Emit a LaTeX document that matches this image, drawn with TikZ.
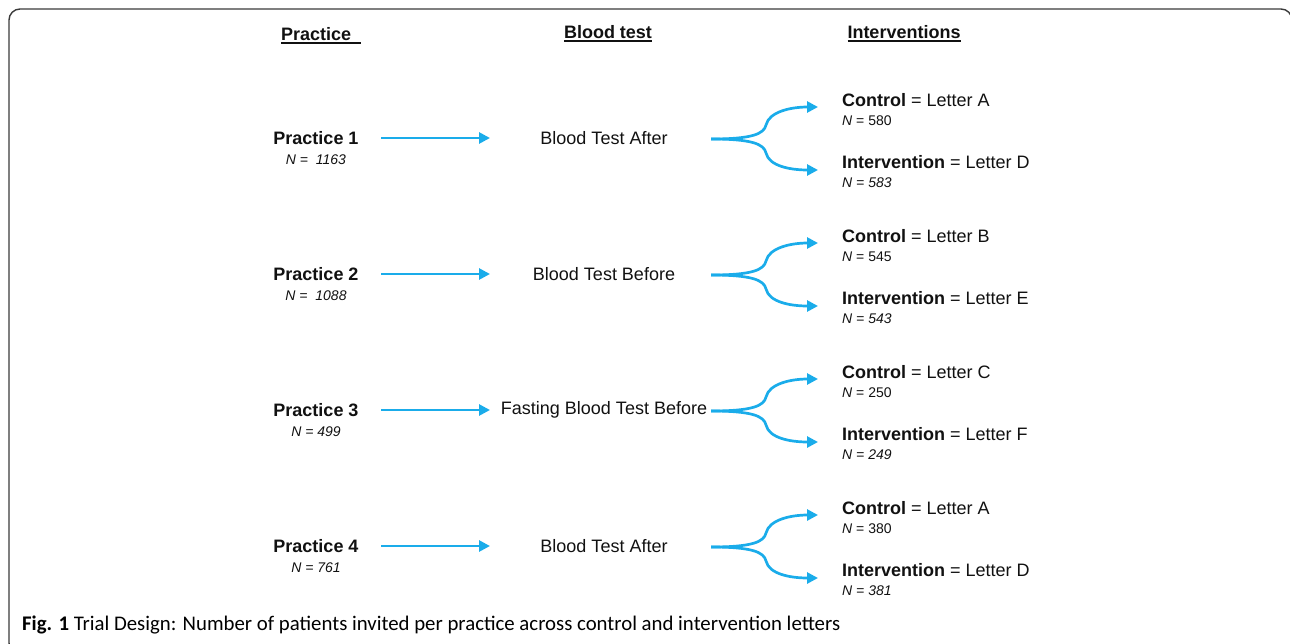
\documentclass[tikz,border=0pt]{standalone}
\usepackage{fontspec}
\setmainfont{Liberation Sans}
\newfontfamily\capfont{Carlito}
\usetikzlibrary{arrows.meta}
\definecolor{trCyan}{HTML}{1AACEA}
\definecolor{trFrame}{HTML}{3A3A3A}
\definecolor{trInk}{HTML}{111111}
\newcommand\trHead[1]{\setbox0\hbox{#1}\rlap{\rule[-3.5pt]{\wd0}{2.2pt}}\box0}
\tikzset{
  tr frame/.style={draw=trFrame, line width=1.4pt, rounded corners=11pt},
  tr arrow/.style={draw=trCyan, line width=2.7pt, -{Triangle[length=11pt,width=11pt]}},
  tr head/.style={font=\fontsize{18}{21}\selectfont\bfseries, text=trInk, inner sep=0pt},
  tr practice/.style={font=\fontsize{18}{21}\selectfont\bfseries, text=trInk, inner sep=0pt, minimum width=130pt},
  tr test/.style={font=\fontsize{18}{21}\selectfont, text=trInk, inner sep=0pt},
  tr arm/.style={font=\fontsize{18}{21}\selectfont, text=trInk, inner sep=0pt, anchor=west},
  tr n/.style={font=\fontsize{14}{16}\selectfont, text=trInk, inner sep=0pt},
  tr caption/.style={font=\capfont\fontsize{20.8}{24}\selectfont, text=black, inner sep=0pt, anchor=west},
}

\begin{document}
\begin{tikzpicture}[x=1pt, y=-1pt]
  \useasboundingbox (0,0) rectangle (1290,643);
  % Frame runs off the bottom and right edge
  \draw[tr frame] (9,9) rectangle (1292,654);

  % Column headers
  \node[tr head, anchor=west] (hPractice) at (281,36) {\trHead{Practice\ \ }};
  \node[tr head] (hTest) at (608,34) {\trHead{Blood test}};
  \node[tr head] (hInterv) at (904,34) {\trHead{Interventions}};

  % One row per practice
  \foreach \i/\y/\pn/\test/\cl/\cn/\il/\in in {
      1/138/{N =\ \ 1163}/{Blood Test After}/A/580/D/583,
      2/274/{N =\ \ 1088}/{Blood Test Before}/B/545/E/543,
      3/410/{N = 499}/{Fasting Blood Test Before}/C/250/F/249,
      4/546/{N = 761}/{Blood Test After}/A/380/D/381} {
    \node[tr practice] (p\i) at (316,\y) {Practice \i};
    \node[tr n] (pn\i) at (316,\y+22) {\textit{\pn}};
    \node[tr test] (t\i) at (604,\y) {\test};
    \coordinate (te\i) at (490,\y);
    \draw[tr arrow] (p\i.east) -- (te\i);

    \node[tr arm] (c\i) at (842,\y-38) {\textbf{Control} = Letter \cl};
    \node[tr n, anchor=west] (cn\i) at (842,\y-17) {\textit{N} = \cn};
    \node[tr arm] (v\i) at (842,\y+24) {\textbf{Intervention} = Letter \il};
    \node[tr n, anchor=west] (vn\i) at (842,\y+45) {\textit{N = \in}};

    % forked arrows
    \coordinate (f\i) at (711,\y+1);
    \coordinate (fc\i) at (818,\y-31);
    \coordinate (fv\i) at (818,\y+32);
    \draw[tr arrow] (f\i) .. controls (752,\y+1) and (764,\y-4) .. (766,\y-13)
      .. controls (769,\y-26) and (790,\y-31) .. (fc\i);
    \draw[tr arrow] (f\i) .. controls (752,\y+1) and (764,\y+6) .. (766,\y+15)
      .. controls (769,\y+28) and (790,\y+32) .. (fv\i);
  }

  % Caption
  \node[tr caption] (cap) at (22,625) {\textbf{Fig. 1} Trial Design: Number of patients invited per practice across control and intervention letters};
\end{tikzpicture}
\end{document}
